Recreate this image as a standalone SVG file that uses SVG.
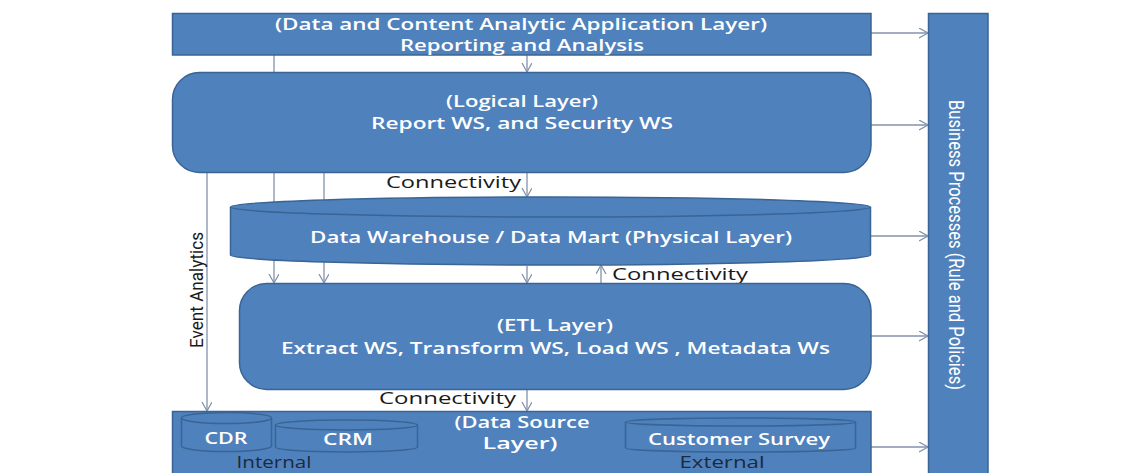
<svg xmlns="http://www.w3.org/2000/svg" width="1143" height="473" viewBox="0 0 1143 473">
<style>
.box{fill:#4f81bd;stroke:#3a6494;stroke-width:1.5}
.inner{fill:#4f81bd;stroke:#3a6494;stroke-width:1.5}
.wt{fill:#ffffff;font-family:"Open Sans","Noto Sans",sans-serif;font-size:17px;font-weight:600;text-anchor:middle}
.lbl{fill:#1a1a1a;font-family:"Open Sans","Noto Sans",sans-serif;font-size:17px}
.dk{fill:#1c2a3c;font-family:"Open Sans","Noto Sans",sans-serif;font-size:17px;text-anchor:middle}
.conn{stroke:#8393ab;stroke-width:1.3;fill:none}
</style>
<defs>
<marker id="arr" markerUnits="userSpaceOnUse" markerWidth="12" markerHeight="12" refX="9" refY="5" orient="auto">
<path d="M0,0 L9,5 L0,10" fill="none" stroke="#8393ab" stroke-width="1.3"/>
</marker>
</defs>
<rect width="1143" height="473" fill="#ffffff"/>
<g id="connectors">
<line class="conn" x1="274" y1="55" x2="274" y2="283" marker-end="url(#arr)"/>
<line class="conn" x1="324" y1="172" x2="324" y2="283" marker-end="url(#arr)"/>
<line class="conn" x1="207" y1="172" x2="207" y2="411" marker-end="url(#arr)"/>
<line class="conn" x1="527" y1="55" x2="527" y2="72" marker-end="url(#arr)"/>
<line class="conn" x1="527" y1="172" x2="527" y2="197" marker-end="url(#arr)"/>
<line class="conn" x1="527" y1="266" x2="527" y2="283" marker-end="url(#arr)"/>
<line class="conn" x1="601" y1="283" x2="601" y2="265" marker-end="url(#arr)"/>
<line class="conn" x1="527" y1="389" x2="527" y2="411" marker-end="url(#arr)"/>
<line class="conn" x1="871" y1="33" x2="928" y2="33" marker-end="url(#arr)"/>
<line class="conn" x1="871" y1="125" x2="928" y2="125" marker-end="url(#arr)"/>
<line class="conn" x1="871" y1="236" x2="928" y2="236" marker-end="url(#arr)"/>
<line class="conn" x1="871" y1="336" x2="928" y2="336" marker-end="url(#arr)"/>
<line class="conn" x1="871" y1="447" x2="928" y2="447" marker-end="url(#arr)"/>
<text class="lbl" x="386" y="188" textLength="135" lengthAdjust="spacingAndGlyphs">Connectivity</text>
<text class="lbl" x="612" y="280" textLength="136" lengthAdjust="spacingAndGlyphs">Connectivity</text>
<text class="lbl" x="379" y="404" textLength="137" lengthAdjust="spacingAndGlyphs">Connectivity</text>
<text class="lbl" transform="translate(203,290) rotate(-90)" text-anchor="middle" textLength="116" lengthAdjust="spacingAndGlyphs" style="font-family:Roboto,'Liberation Sans',sans-serif;font-size:18px">Event Analytics</text>
</g>
<g id="app-layer">
<rect class="box" x="172.5" y="13.5" width="698.5" height="41.5"/>
<text class="wt" x="521" y="30" textLength="492" lengthAdjust="spacingAndGlyphs">(Data and Content Analytic Application Layer)</text>
<text class="wt" x="522" y="51" textLength="244" lengthAdjust="spacingAndGlyphs">Reporting and Analysis</text>
</g>
<g id="logical-layer">
<rect class="box" x="172.5" y="72.5" width="698.5" height="100" rx="27" ry="27"/>
<text class="wt" x="522" y="107" textLength="152" lengthAdjust="spacingAndGlyphs">(Logical Layer)</text>
<text class="wt" x="522" y="129" textLength="302" lengthAdjust="spacingAndGlyphs">Report WS, and Security WS</text>
</g>
<g id="data-warehouse">
<path class="box" d="M230.5,207 A320,10 0 0 1 870.5,207 L870.5,255 A320,10 0 0 1 230.5,255 Z"/>
<path d="M230.5,207 A320,10 0 0 0 870.5,207" fill="none" stroke="#3a6494" stroke-width="1.5"/>
<text class="wt" x="551" y="243" textLength="482" lengthAdjust="spacingAndGlyphs">Data Warehouse / Data Mart (Physical Layer)</text>
</g>
<g id="etl-layer">
<rect class="box" x="239.5" y="283.5" width="631.5" height="106" rx="27" ry="27"/>
<text class="wt" x="555" y="331" textLength="116" lengthAdjust="spacingAndGlyphs">(ETL Layer)</text>
<text class="wt" x="555.5" y="354" textLength="549" lengthAdjust="spacingAndGlyphs">Extract WS, Transform WS, Load WS , Metadata Ws</text>
</g>
<g id="data-source-layer">
<rect class="box" x="172.5" y="411.5" width="698.5" height="70"/>
<g id="cdr">
<path class="inner" d="M181.5,418 A45,5.5 0 0 1 271.5,418 L271.5,446 A45,5.5 0 0 1 181.5,446 Z"/>
<path d="M181.5,418 A45,5.5 0 0 0 271.5,418" fill="none" stroke="#3a6494" stroke-width="1.5"/>
<text class="wt" x="226" y="444" textLength="43" lengthAdjust="spacingAndGlyphs">CDR</text>
</g>
<g id="crm">
<path class="inner" d="M275.5,425 A71,5 0 0 1 417.5,425 L417.5,447 A71,5 0 0 1 275.5,447 Z"/>
<path d="M275.5,425 A71,5 0 0 0 417.5,425" fill="none" stroke="#3a6494" stroke-width="1.5"/>
<text class="wt" x="348" y="445" textLength="50" lengthAdjust="spacingAndGlyphs">CRM</text>
</g>
<g id="customer-survey">
<path class="inner" d="M625.5,422 A115,4 0 0 1 855.5,422 L855.5,448 A115,4 0 0 1 625.5,448 Z"/>
<path d="M625.5,422 A115,4 0 0 0 855.5,422" fill="none" stroke="#3a6494" stroke-width="1.5"/>
<text class="wt" x="739" y="445" textLength="182" lengthAdjust="spacingAndGlyphs">Customer Survey</text>
</g>
<text class="wt" x="522" y="428" textLength="135" lengthAdjust="spacingAndGlyphs">(Data Source</text>
<text class="wt" x="520" y="449" textLength="75" lengthAdjust="spacingAndGlyphs">Layer)</text>
<text class="dk" x="274" y="468" textLength="75" lengthAdjust="spacingAndGlyphs">Internal</text>
<text class="dk" x="722" y="468" textLength="85" lengthAdjust="spacingAndGlyphs">External</text>
</g>
<g id="business-processes">
<rect class="box" x="928.5" y="13.5" width="59.5" height="470"/>
<text transform="translate(949,245) rotate(90)" text-anchor="middle" textLength="290" lengthAdjust="spacingAndGlyphs" style="fill:#ffffff;font-family:Roboto,'Liberation Sans',sans-serif;font-size:20px">Business Processes (Rule and Policies)</text>
</g>
</svg>
